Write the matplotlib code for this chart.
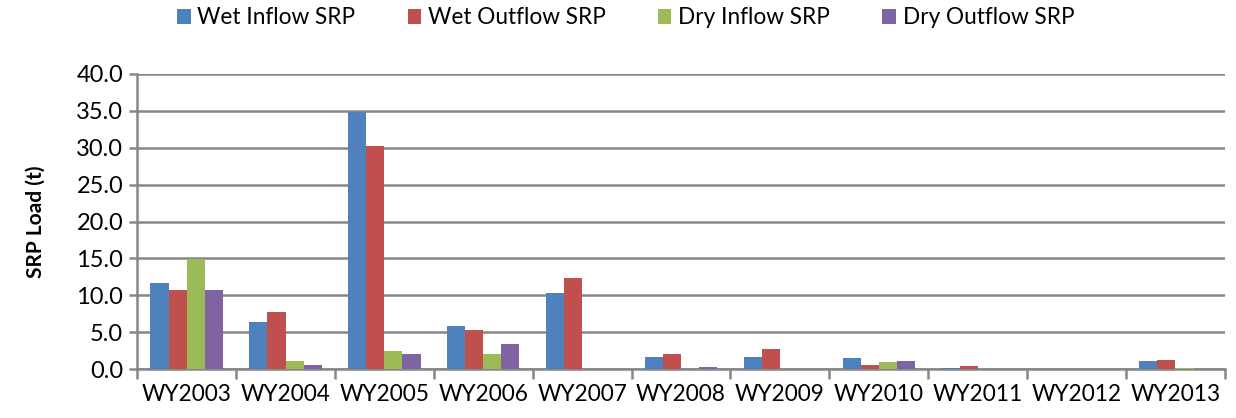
import numpy as np
import matplotlib.pyplot as plt

plt.rcParams['font.family'] = ['Lato', 'DejaVu Sans']

# data (t)
years = ["WY2003", "WY2004", "WY2005", "WY2006", "WY2007", "WY2008",
         "WY2009", "WY2010", "WY2011", "WY2012", "WY2013"]
wet_inflow = [11.7, 6.4, 34.8, 5.9, 10.3, 1.6, 1.6, 1.45, 0.2, 0.0, 1.1]
wet_outflow = [10.7, 7.8, 30.3, 5.3, 12.4, 2.1, 2.7, 0.55, 0.4, 0.0, 1.3]
dry_inflow = [14.9, 1.1, 2.5, 2.1, 0.0, 0.0, 0.0, 0.9, 0.0, 0.0, 0.2]
dry_outflow = [10.7, 0.55, 2.1, 3.4, 0.0, 0.25, 0.0, 1.1, 0.0, 0.0, 0.0]

series = [
    ("Wet Inflow SRP", wet_inflow, "#4F81BD"),
    ("Wet Outflow SRP", wet_outflow, "#C0504D"),
    ("Dry Inflow SRP", dry_inflow, "#9BBB59"),
    ("Dry Outflow SRP", dry_outflow, "#8064A2"),
]

fig, ax = plt.subplots(figsize=(12.36, 4.18), dpi=100)
fig.subplots_adjust(left=0.111, right=0.991, bottom=0.117, top=0.823)

x = np.arange(len(years))
width = 0.183
for i, (name, vals, col) in enumerate(series):
    ax.bar(x + (i - 1.5) * width, vals, width=width, color=col, label=name,
           zorder=3)

ax.set_xlim(-0.5, len(years) - 0.5)
ax.set_ylim(0, 40)
ax.set_yticks(np.arange(0, 40.1, 5))
ax.set_yticklabels([f"{v:.1f}" for v in np.arange(0, 40.1, 5)], fontsize=17)
ax.yaxis.grid(True, color="#868686", linewidth=1.8, zorder=0)

ax.set_xticks(x)
ax.set_xticklabels(years, fontsize=16.3)
ax.set_xticks(np.arange(-0.5, len(years)), minor=True)
ax.tick_params(axis="x", which="major", length=0, pad=11)
ax.tick_params(axis="x", which="minor", length=7, width=1.8, color="#868686")
ax.tick_params(axis="y", length=6, width=1.8, color="#868686", pad=4)

for s in ["top", "right"]:
    ax.spines[s].set_visible(False)
for s in ["left", "bottom"]:
    ax.spines[s].set_color("#868686")
    ax.spines[s].set_linewidth(1.8)

ax.set_ylabel("SRP Load (t)", fontsize=15, fontweight="bold", labelpad=22)

ax.legend(loc="center", bbox_to_anchor=(0.449, 1.19), ncol=4,
          frameon=False, fontsize=16.3, handlelength=0.6, handleheight=0.7,
          handletextpad=0.3, columnspacing=2.3, borderaxespad=0)

fig.savefig("out.png", dpi=100)
